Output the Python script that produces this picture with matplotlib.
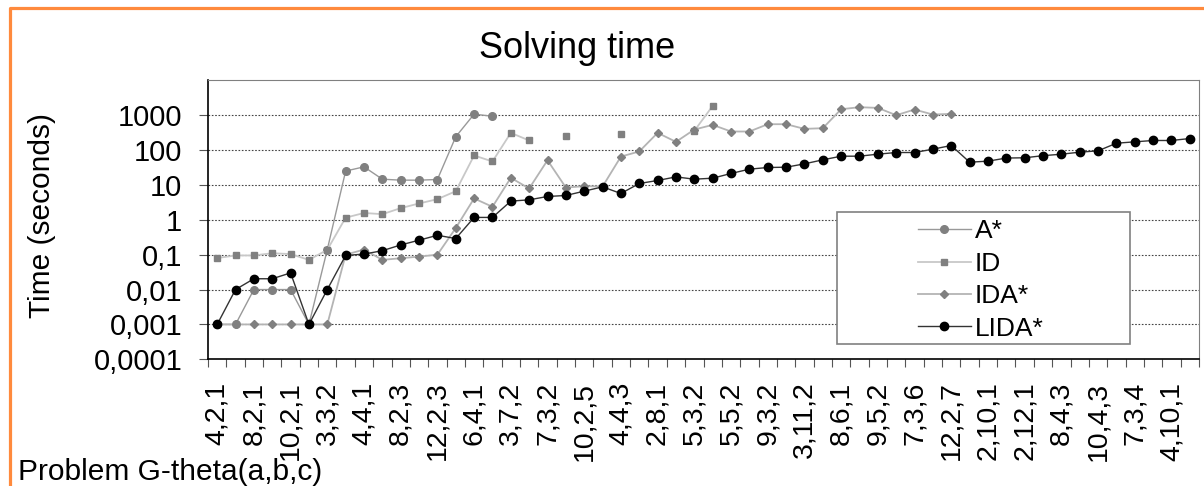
import matplotlib
matplotlib.use("Agg")
import matplotlib.pyplot as plt
from matplotlib.lines import Line2D
from matplotlib.patches import Rectangle
import numpy as np

nan = np.nan

# problem labels, shown on every other category (54 categories in total)
tick_labels = ["4,2,1", "8,2,1", "10,2,1", "3,3,2", "4,4,1", "8,2,3", "12,2,3",
               "6,4,1", "3,7,2", "7,3,2", "10,2,5", "4,4,3", "2,8,1", "5,3,2",
               "5,5,2", "9,3,2", "3,11,2", "8,6,1", "9,5,2", "7,3,6", "12,2,7",
               "2,10,1", "2,12,1", "8,4,3", "10,4,3", "7,3,4", "4,10,1"]
n_cat = 54

y_ticks = [0.0001, 0.001, 0.01, 0.1, 1, 10, 100, 1000]
y_labels = ["0,0001", "0,001", "0,01", "0,1", "1", "10", "100", "1000"]

a_star = [0.001, 0.001, 0.01, 0.01, 0.01, 0.001, 0.14, 25, 33, 14.6, 13.7, 13.7,
          14.3, 240, 1070, 930] + [nan] * 38

id_ = [0.08, 0.095, 0.095, 0.11, 0.104, 0.071, 0.138, 1.15, 1.57, 1.45, 2.16,
       2.94, 3.9, 6.6, 70, 47, 311, 188, nan, 261, nan, nan, 291, nan, nan, nan,
       355, 1850] + [nan] * 26

ida_star = [0.001, 0.001, 0.001, 0.001, 0.001, 0.001, 0.001, 0.1, 0.14, 0.071,
            0.079, 0.088, 0.1, 0.58, 4.1, 2.36, 16, 7.9, 51, 8.4, 9.2, 9.0, 65,
            91, 311, 172, 387, 527, 340, 340, 551, 551, 405, 423, 1483, 1692,
            1618, 998, 1450, 1043, 1089] + [nan] * 13

lida_star = [0.001, 0.01, 0.0204, 0.0204, 0.03, 0.001, 0.01, 0.095, 0.104, 0.13,
             0.19, 0.26, 0.36, 0.29, 1.17, 1.17, 3.43, 3.74, 4.66, 4.98,
             6.63, 8.8, 5.68, 11, 13.4, 17, 14.6, 15.6, 21.3, 28.3,
             31.6, 32.2, 40.2, 52.4, 66.7, 66.7, 76.2, 85, 85, 106,
             135, 44.9, 48, 59, 60, 69, 76, 87, 95, 157,
             172, 188, 188, 214]

plt.rcParams['font.family'] = ['Liberation Sans', 'DejaVu Sans']

W, H = 1204, 486
fig = plt.figure(figsize=(W / 100, H / 100), dpi=100)
ax = fig.add_axes([208 / W, 1 - 359.3 / H, (1199 - 208) / W, (359.3 - 80.3) / H])

x = np.arange(n_cat)
ax.plot(x, a_star, color='#999999', lw=1, marker='o', ms=5.5,
        mfc='#808080', mec='#808080', label='A*', zorder=3)
ax.plot(x, id_, color='#c8c8c8', lw=1.3, marker='s', ms=5,
        mfc='#808080', mec='#808080', label='ID', zorder=3)
ax.plot(x, ida_star, color='#b4b4b4', lw=1.3, marker='D', ms=3.6,
        mfc='#808080', mec='#808080', label='IDA*', zorder=3)
ax.plot(x, lida_star, color='#333333', lw=1, marker='o', ms=6,
        mfc='black', mec='black', label='LIDA*', zorder=4)

ax.set_yscale('log')
ax.set_ylim(1e-4, 1e4)
ax.set_xlim(-0.5, n_cat - 0.5)

ax.set_yticks(y_ticks)
ax.set_yticklabels(y_labels)
ax.yaxis.set_minor_locator(matplotlib.ticker.NullLocator())
ax.tick_params(axis='y', which='major', direction='out', length=6.5, width=0.8,
               color='#555555', labelsize=21, pad=12)

# boundary ticks without labels, labels on every other category center
ax.set_xticks(np.arange(-0.5, n_cat, 1))
ax.set_xticklabels([])
ax.set_xticks(np.arange(0, n_cat, 2), minor=True)
ax.set_xticklabels(tick_labels, minor=True, rotation=90, va='top', ha='center')
ax.tick_params(axis='x', which='major', direction='out', length=6, width=0.8,
               color='#555555')
ax.tick_params(axis='x', which='minor', length=0, labelsize=20.5, pad=16)

for yv in y_ticks[1:]:
    ax.axhline(yv, color='#444444', lw=0.8, ls=(0, (1.5, 1.5)), zorder=1)

ax.spines['left'].set_color('black')
ax.spines['bottom'].set_color('black')
ax.spines['left'].set_linewidth(1.2)
ax.spines['bottom'].set_linewidth(1.2)
ax.spines['top'].set_color('#808080')
ax.spines['right'].set_color('#808080')

# legend box
lx0, lx1, ly0, ly1 = 837, 1130, 212, 344
ax.add_patch(Rectangle(((lx0 - 208) / 991, (359.3 - ly1) / 279), (lx1 - lx0) / 991,
                       (ly1 - ly0) / 279, transform=ax.transAxes, facecolor='white',
                       edgecolor='#808080', lw=1.2, zorder=5))
leg = ax.legend(loc='center left', bbox_to_anchor=((918 - 208) / 991, (359.3 - 280) / 279),
                frameon=False, fontsize=19, borderpad=0, borderaxespad=0,
                handlelength=2.0, handletextpad=0.15, labelspacing=0.32)
leg.set_zorder(6)

fig.text(577 / W, 1 - 48 / H, "Solving time", ha='center', va='center', fontsize=26)
fig.text(42 / W, 1 - 216 / H, "Time (seconds)", ha='center', va='center',
         rotation=90, fontsize=21.5)
fig.text(18 / W, 1 - 472 / H, "Problem G-theta(a,b,c)", ha='left', va='center',
         fontsize=21.5)

# orange outer border (left and top)
fig.add_artist(Line2D([10 / W, 10 / W, 1.0], [0.0, 1 - 8.5 / H, 1 - 8.5 / H],
                      transform=fig.transFigure, color='#ff8a3d', lw=2.3))

fig.savefig("out.png", dpi=100)
